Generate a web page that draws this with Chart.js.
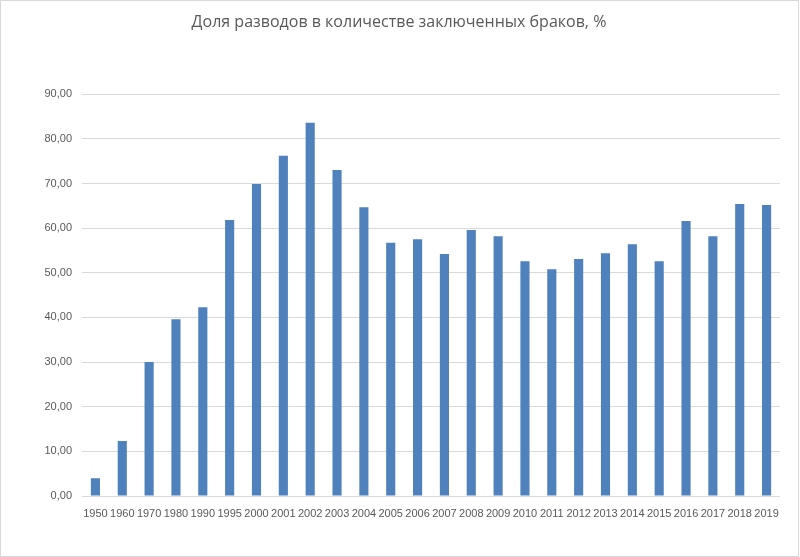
<!DOCTYPE html>
<html>
<head>
<meta charset="utf-8">
<script src="https://cdn.jsdelivr.net/npm/chart.js@4"></script>
<style>
  html, body { margin: 0; padding: 0; background: #fff; }
  #wrap { position: relative; width: 800px; height: 557px; }
</style>
</head>
<body>
<div id="wrap"><canvas id="myChart1"></canvas></div>
<script>
const ctx = document.getElementById('myChart1').getContext('2d');

// years on the x axis
const labels = ['1950', '1960', '1970', '1980', '1990', '1995', '2000', '2001', '2002', '2003',
  '2004', '2005', '2006', '2007', '2008', '2009', '2010', '2011', '2012', '2013',
  '2014', '2015', '2016', '2017', '2018', '2019'];

// divorces per 100 marriages, %
const divorceShare = [4.0, 12.3, 30.0, 39.6, 42.3, 61.8, 69.9, 76.2, 83.6, 73.0,
  64.7, 56.7, 57.5, 54.2, 59.6, 58.2, 52.6, 50.8, 53.1, 54.4,
  56.4, 52.6, 61.6, 58.2, 65.4, 65.2];

const yTicks = [0, 10, 20, 30, 40, 50, 60, 70, 80, 90];

const textColor = '#595959';
const gridColor = '#d9d9d9';

// light frame round the whole chart, like the office chart box
const frame = {
  id: 'frame',
  afterDraw(chart) {
    const c = chart.ctx;
    c.save();
    c.strokeStyle = gridColor;
    c.lineWidth = 1;
    c.strokeRect(0.5, 0.5, chart.width - 2, chart.height - 1);
    c.restore();
  },
};

const data = {
  labels,
  datasets: [
    {
      data: divorceShare,
      backgroundColor: '#4f81bd',
      barPercentage: 0.34,
      categoryPercentage: 1,
    },
  ],
};

const config = {
  type: 'bar',
  data: data,
  plugins: [frame],
  options: {
    responsive: true,
    maintainAspectRatio: false,
    animation: false,
    layout: { padding: { left: 0, right: 2, top: 0, bottom: 0 } },
    plugins: {
      legend: { display: false },
      tooltip: { enabled: false },
      title: {
        display: true,
        text: 'Доля разводов в количестве заключенных браков, %',
        color: textColor,
        font: { family: 'Open Sans', size: 16, weight: 'normal' },
        padding: { top: 13, bottom: 62 },
      },
    },
    scales: {
      x: {
        grid: { display: false },
        border: { display: false },
        ticks: {
          color: textColor,
          font: { family: 'Liberation Sans', size: 11 },
          autoSkip: false,
          maxRotation: 0,
          padding: 3,
        },
        afterFit: function (scale) {
          scale.height = 61;
        },
      },
      y: {
        min: 0,
        max: 90,
        afterBuildTicks: function (scale) {
          scale.ticks = yTicks.map(v => ({ value: v }));
        },
        grid: { color: gridColor, drawTicks: false },
        border: { display: false },
        ticks: {
          color: textColor,
          font: { family: 'Liberation Sans', size: 11 },
          padding: 10,
          callback: function (value) {
            return value.toFixed(2).replace('.', ',');
          },
        },
        afterFit: function (scale) {
          scale.width = 82;
        },
      },
      // empty right margin so the title stays centred on the whole box
      spacer: {
        type: 'linear',
        position: 'right',
        grid: { display: false },
        border: { display: false },
        ticks: { display: false },
        afterFit: function (scale) {
          scale.width = 18;
        },
      },
    },
  },
};

const myChart = new Chart(ctx, config);
</script>
</body>
</html>
